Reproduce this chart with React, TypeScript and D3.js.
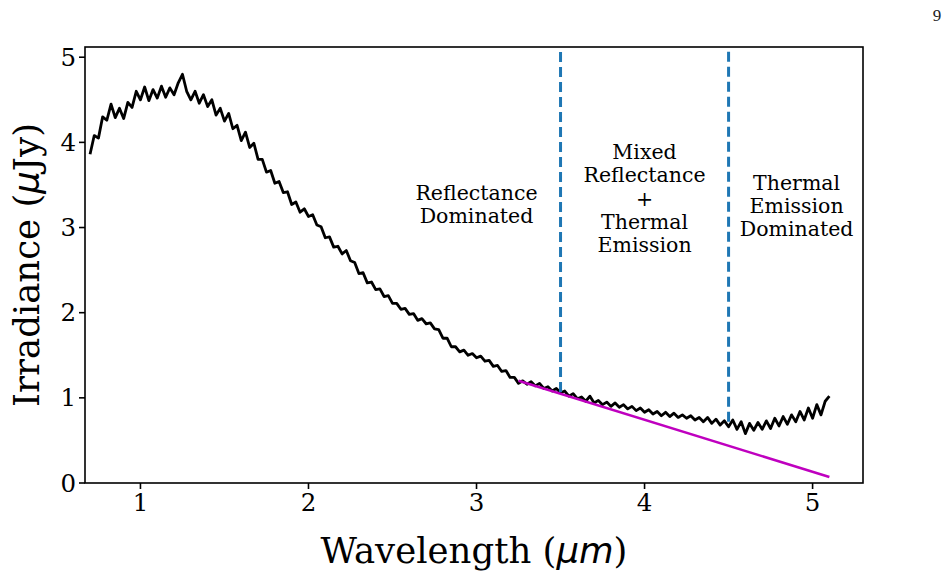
import * as d3 from "d3";

// spectrum sampled on a regular wavelength grid (µm)
const SPEC_START = 0.7;
const SPEC_STEP = 0.025;
const irradiance = [
  3.86, 4.08, 4.05, 4.3, 4.26, 4.45, 4.29, 4.4, 4.28, 4.47,
  4.41, 4.6, 4.5, 4.65, 4.49, 4.62, 4.52, 4.66, 4.53, 4.64,
  4.56, 4.7, 4.8, 4.6, 4.5, 4.6, 4.46, 4.56, 4.42, 4.5,
  4.32, 4.4, 4.25, 4.34, 4.16, 4.2, 4.02, 4.12, 3.94, 3.99,
  3.8,
  3.8, 3.65, 3.67, 3.52, 3.54, 3.41, 3.42, 3.27, 3.3, 3.18,
  3.22, 3.13, 3.15, 3.03, 3.01, 2.88, 2.89, 2.77, 2.78, 2.69,
  2.73, 2.61, 2.59, 2.46, 2.47, 2.35, 2.36, 2.27, 2.28, 2.19,
  2.2, 2.11,
  2.11, 2.04, 2.05, 1.98, 1.99, 1.91, 1.93, 1.87, 1.88, 1.81,
  1.8, 1.7, 1.7, 1.6, 1.6, 1.54, 1.56, 1.5, 1.52, 1.47,
  1.49, 1.43, 1.44, 1.37, 1.38, 1.31, 1.32, 1.24, 1.24, 1.17,
  1.2, 1.16,
  1.19, 1.14, 1.17, 1.11, 1.13, 1.08, 1.11, 1.06, 1.08, 1.02,
  1.05, 0.99, 1.01, 0.96, 1.02, 0.94, 0.97, 0.92, 0.95, 0.9,
  0.94, 0.89, 0.92, 0.87, 0.9, 0.85, 0.88, 0.83, 0.86, 0.81,
  0.84, 0.79, 0.83, 0.78, 0.82, 0.77, 0.8, 0.76, 0.79, 0.74,
  0.77, 0.72, 0.77, 0.7, 0.75, 0.68, 0.73, 0.66,
  0.74, 0.63, 0.72, 0.58, 0.7, 0.62, 0.71, 0.63, 0.73, 0.64,
  0.76, 0.67, 0.78, 0.69, 0.8, 0.72, 0.84, 0.74, 0.88, 0.76,
  0.92, 0.8, 0.96, 1.02,
];
const wavelength = irradiance.map((_, i) => SPEC_START + i * SPEC_STEP);

// reflectance continuum extrapolated past 3.25 µm
const fitX = [3.25, 5.1];
const fitY = [1.2, 0.07];

// region boundaries, drawn from the spectrum up to the top of the axes
const dividerX = [3.5, 4.5];
const dividerFloor = [1.07, 0.72];

const regionX = [3.0, 4.0, 4.905];
const regionY = [3.27, 3.34, 3.25];
const regionLines = [
  ["Reflectance", "Dominated"],
  ["Mixed", "Reflectance", "+", "Thermal", "Emission"],
  ["Thermal", "Emission", "Dominated"],
];

const xTicks = [1, 2, 3, 4, 5];
const yTicks = [0, 1, 2, 3, 4, 5];

const W = 948;
const H = 577;
const M = { left: 85, right: 863, top: 47, bottom: 483 };
const SERIF = "'DejaVu Serif', serif";
const MATH = "'DejaVu Sans', sans-serif";
const LINE_H = 23.25;

export default function App() {
  const x = d3.scaleLinear().domain([0.67, 5.3]).range([M.left, M.right]);
  const y = d3.scaleLinear().domain([0, 5.12]).range([M.bottom, M.top]);

  const spectrum = d3
    .line<number>()
    .x((_, i) => x(wavelength[i]))
    .y((d) => y(d))(irradiance);

  const fit = d3
    .line<number>()
    .x((_, i) => x(fitX[i]))
    .y((d) => y(d))(fitY);

  return (
    <svg
      width={W}
      height={H}
      style={{ position: "absolute", left: 0, top: 0, background: "#fff" }}
    >
      <text x={937} y={21} fontSize={17} fontFamily="'Liberation Serif', serif" fill="#222" textAnchor="middle">
        9
      </text>

      <path d={spectrum ?? ""} fill="none" stroke="#000" strokeWidth={2.8} strokeLinejoin="round" />
      <path d={fit ?? ""} fill="none" stroke="#bf00bf" strokeWidth={2.5} />

      {dividerX.map((d, i) => (
        <line
          key={d}
          x1={x(d)}
          x2={x(d)}
          y1={y(dividerFloor[i])}
          y2={M.top}
          stroke="#1f77b4"
          strokeWidth={3}
          strokeDasharray="10 5"
        />
      ))}

      {regionLines.map((lines, i) => {
        const cy = y(regionY[i]) - ((lines.length - 1) * LINE_H) / 2;
        return (
          <text
            key={i}
            x={x(regionX[i])}
            fontSize={20.5}
            fontFamily={SERIF}
            textAnchor="middle"
            dominantBaseline="central"
            fill="#000"
          >
            {lines.map((l, j) => (
              <tspan key={j} x={x(regionX[i])} y={cy + j * LINE_H}>
                {l}
              </tspan>
            ))}
          </text>
        );
      })}

      {/* frame */}
      <rect
        x={M.left}
        y={M.top}
        width={M.right - M.left}
        height={M.bottom - M.top}
        fill="none"
        stroke="#000"
        strokeWidth={1.6}
      />

      {xTicks.map((t) => (
        <g key={t} transform={`translate(${x(t)},${M.bottom})`}>
          <line y1={0} y2={6} stroke="#000" strokeWidth={1.6} />
          <text y={28} fontSize={24.5} fontFamily={SERIF} textAnchor="middle" fill="#000">
            {t}
          </text>
        </g>
      ))}
      {yTicks.map((t) => (
        <g key={t} transform={`translate(${M.left},${y(t)})`}>
          <line x1={0} x2={-6} stroke="#000" strokeWidth={1.6} />
          <text x={-9} fontSize={24.5} fontFamily={SERIF} textAnchor="end" dominantBaseline="central" fill="#000">
            {t}
          </text>
        </g>
      ))}

      <text x={(M.left + M.right) / 2} y={563} fontSize={35.5} fontFamily={SERIF} textAnchor="middle" fill="#000">
        Wavelength (
        <tspan fontFamily={MATH} fontStyle="italic">
          μm
        </tspan>
        )
      </text>
      <text
        transform={`translate(39,${(M.top + M.bottom) / 2}) rotate(-90)`}
        fontSize={35.5}
        fontFamily={SERIF}
        textAnchor="middle"
        fill="#000"
      >
        Irradiance (
        <tspan fontFamily={MATH} fontStyle="italic">
          μ
        </tspan>
        Jy)
      </text>
    </svg>
  );
}
